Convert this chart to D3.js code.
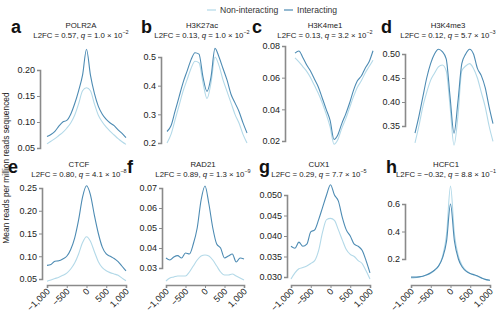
<!DOCTYPE html>
<html>
<head>
<meta charset="utf-8">
<script src="https://cdn.jsdelivr.net/npm/d3@7"></script>
<style>
  body { margin: 0; background: #fff; }
  svg { font-family: 'Liberation Sans', Arial, Helvetica, sans-serif; }
</style>
</head>
<body>
<div id="plot_area"></div>
<script>
// Distance from anchor (bp)
const positions = [-1000, -900, -800, -700, -600, -500, -400, -300, -200, -100, 0,
                   100, 200, 300, 400, 500, 600, 700, 800, 900, 1000];

const letters = ['a', 'b', 'c', 'd', 'e', 'f', 'g', 'h'];
const genes = ['POLR2A', 'H3K27ac', 'H3K4me1', 'H3K4me3', 'CTCF', 'RAD21', 'CUX1', 'HCFC1'];
const l2fc = ['0.57', '0.13', '0.13', '0.12', '0.80', '0.89', '0.29', '\u22120.32'];
const qMantissa = ['1.0', '1.0', '3.2', '5.7', '4.1', '1.3', '7.7', '8.8'];
const qExponent = ['\u22122', '\u22122', '\u22122', '\u22123', '\u22128', '\u22129', '\u22125', '\u22121'];

const seriesNames = ['Non-interacting', 'Interacting'];
const xTicks = [-1000, -500, 0, 500, 1000];

const polr2aNon   = [0.058, 0.063, 0.068, 0.074, 0.080, 0.088, 0.098, 0.113, 0.135, 0.160, 0.166, 0.160, 0.135, 0.113, 0.100, 0.090, 0.082, 0.075, 0.068, 0.062, 0.057];
const polr2aInter = [0.072, 0.076, 0.082, 0.092, 0.100, 0.103, 0.115, 0.135, 0.160, 0.190, 0.240, 0.190, 0.155, 0.130, 0.115, 0.105, 0.098, 0.093, 0.085, 0.078, 0.070];
const h3k27acNon   = [0.200, 0.230, 0.280, 0.330, 0.380, 0.420, 0.460, 0.485, 0.480, 0.410, 0.355, 0.410, 0.500, 0.470, 0.420, 0.380, 0.340, 0.300, 0.270, 0.230, 0.200];
const h3k27acInter = [0.240, 0.260, 0.310, 0.360, 0.410, 0.450, 0.490, 0.515, 0.510, 0.430, 0.380, 0.430, 0.530, 0.500, 0.460, 0.420, 0.370, 0.340, 0.310, 0.270, 0.235];
const h3k4me1Non   = [0.0725, 0.070, 0.067, 0.064, 0.060, 0.055, 0.050, 0.044, 0.037, 0.029, 0.018, 0.021, 0.028, 0.034, 0.041, 0.048, 0.054, 0.058, 0.063, 0.067, 0.071];
const h3k4me1Inter = [0.0755, 0.0768, 0.0728, 0.068, 0.064, 0.059, 0.054, 0.047, 0.040, 0.033, 0.021, 0.024, 0.031, 0.037, 0.044, 0.052, 0.058, 0.061, 0.066, 0.070, 0.077];
const h3k4me3Non   = [0.315, 0.350, 0.390, 0.420, 0.445, 0.460, 0.473, 0.477, 0.465, 0.390, 0.310, 0.370, 0.465, 0.475, 0.480, 0.470, 0.450, 0.420, 0.390, 0.350, 0.318];
const h3k4me3Inter = [0.335, 0.370, 0.410, 0.450, 0.480, 0.500, 0.510, 0.505, 0.490, 0.410, 0.335, 0.400, 0.480, 0.500, 0.510, 0.500, 0.470, 0.455, 0.430, 0.390, 0.355];
const ctcfNon   = [0.045, 0.048, 0.051, 0.054, 0.058, 0.063, 0.072, 0.085, 0.105, 0.130, 0.143, 0.133, 0.110, 0.088, 0.075, 0.068, 0.064, 0.061, 0.058, 0.052, 0.046];
const ctcfInter = [0.080, 0.082, 0.089, 0.090, 0.094, 0.100, 0.115, 0.140, 0.180, 0.230, 0.255, 0.235, 0.190, 0.150, 0.120, 0.105, 0.100, 0.095, 0.088, 0.078, 0.068];
const rad21Non   = [0.0235, 0.025, 0.0255, 0.026, 0.026, 0.026, 0.028, 0.031, 0.034, 0.036, 0.0365, 0.036, 0.034, 0.031, 0.028, 0.0265, 0.0265, 0.027, 0.026, 0.025, 0.024];
const rad21Inter = [0.035, 0.034, 0.0355, 0.0362, 0.035, 0.0375, 0.037, 0.042, 0.050, 0.064, 0.071, 0.062, 0.050, 0.042, 0.040, 0.035, 0.036, 0.037, 0.033, 0.035, 0.0345];
const cux1Non   = [0.0295, 0.031, 0.032, 0.0323, 0.0327, 0.0333, 0.034, 0.0365, 0.041, 0.044, 0.0443, 0.0438, 0.0415, 0.039, 0.0367, 0.0355, 0.035, 0.034, 0.0333, 0.0315, 0.0295];
const cux1Inter = [0.0375, 0.037, 0.0385, 0.0375, 0.038, 0.041, 0.0415, 0.044, 0.047, 0.050, 0.0525, 0.050, 0.0485, 0.0445, 0.0415, 0.040, 0.038, 0.0375, 0.0365, 0.034, 0.031];
const hcfc1Non   = [0.062, 0.064, 0.068, 0.074, 0.083, 0.097, 0.118, 0.150, 0.220, 0.380, 0.730, 0.380, 0.220, 0.150, 0.115, 0.095, 0.083, 0.072, 0.060, 0.050, 0.043];
const hcfc1Inter = [0.068, 0.068, 0.070, 0.075, 0.085, 0.100, 0.120, 0.150, 0.210, 0.330, 0.600, 0.330, 0.200, 0.140, 0.110, 0.095, 0.085, 0.075, 0.060, 0.050, 0.045];

const nonSeries = [polr2aNon, h3k27acNon, h3k4me1Non, h3k4me3Non, ctcfNon, rad21Non, cux1Non, hcfc1Non];
const interSeries = [polr2aInter, h3k27acInter, h3k4me1Inter, h3k4me3Inter, ctcfInter, rad21Inter, cux1Inter, hcfc1Inter];

const yTicks = [
  [0.05, 0.10, 0.15, 0.20],
  [0.2, 0.3, 0.4, 0.5],
  [0.02, 0.04, 0.06, 0.08],
  [0.35, 0.40, 0.45, 0.50],
  [0.05, 0.10, 0.15, 0.20, 0.25],
  [0.03, 0.04, 0.05, 0.06, 0.07],
  [0.030, 0.035, 0.040, 0.045, 0.050],
  [0.2, 0.4, 0.6]
];
const yFormats = ['.2f', '.1f', '.2f', '.2f', '.2f', '.2f', '.3f', '.1f'];

// Layout (pixels) for each panel
const layout = [
  { axisX: 40,  x0: 47,  x1: 126, yLo: 148, yHi: 70,  titleX: 81,  titleY: 28,  letterX: 11,  letterY: 33,  bottom: false },
  { axisX: 161, x0: 167, x1: 247, yLo: 143, yHi: 57,  titleX: 202, titleY: 28,  letterX: 141, letterY: 33,  bottom: false },
  { axisX: 285, x0: 295, x1: 373, yLo: 141, yHi: 46,  titleX: 325, titleY: 28,  letterX: 252, letterY: 33,  bottom: false },
  { axisX: 405, x0: 415, x1: 493, yLo: 126, yHi: 54,  titleX: 448, titleY: 28,  letterX: 381, letterY: 33,  bottom: false },
  { axisX: 42,  x0: 47,  x1: 126, yLo: 279, yHi: 188, titleX: 79,  titleY: 167, letterX: 8,   letterY: 173, bottom: true },
  { axisX: 162, x0: 166, x1: 244, yLo: 268, yHi: 188, titleX: 203, titleY: 167, letterX: 127, letterY: 173, bottom: true },
  { axisX: 287, x0: 291, x1: 370, yLo: 277, yHi: 195, titleX: 319, titleY: 167, letterX: 259, letterY: 173, bottom: true },
  { axisX: 405, x0: 411, x1: 490, yLo: 259, yHi: 204, titleX: 446, titleY: 167, letterX: 386, letterY: 173, bottom: true }
];
const xAxisY = 285;

const colorNon = '#b3d9e8';
const colorInter = '#4d8bb3';
const axisColor = '#8a8a8a';

const w = 500;
const h = 318;

const svg = d3.select('#plot_area')
  .append('svg')
  .attr('width', w)
  .attr('height', h);

// Legend
const legend = [
  { x: 207, color: colorNon, label: seriesNames[0] },
  { x: 284, color: colorInter, label: seriesNames[1] }
];
legend.forEach(function (l) {
  svg.append('line')
    .attr('x1', l.x).attr('x2', l.x + 9)
    .attr('y1', 10).attr('y2', 10)
    .attr('stroke', l.color).attr('stroke-width', 1.2);
  svg.append('text')
    .attr('x', l.x + 13).attr('y', 13)
    .style('font-size', '8.6px').attr('fill', '#333')
    .text(l.label);
});

// Shared y label
svg.append('text')
  .attr('transform', 'translate(9,168) rotate(-90)')
  .attr('text-anchor', 'middle')
  .style('font-size', '8.4px')
  .attr('fill', '#222')
  .text('Mean reads per million reads sequenced');

const fmtX = function (d) {
  return (d < 0 ? '\u2212' : '') + d3.format(',')(Math.abs(d));
};

layout.forEach(function (p, i) {
  const ticks = yTicks[i];
  const xScale = d3.scaleLinear()
    .domain([positions[0], positions[positions.length - 1]])
    .range([p.x0, p.x1]);
  const yScale = d3.scaleLinear()
    .domain([ticks[0], ticks[ticks.length - 1]])
    .range([p.yLo, p.yHi]);

  const g = svg.append('g');

  // Panel letter
  g.append('text')
    .attr('x', p.letterX).attr('y', p.letterY)
    .style('font-size', '18px').style('font-weight', 'bold')
    .attr('fill', '#111')
    .text(letters[i]);

  // Title
  g.append('text')
    .attr('x', p.titleX).attr('y', p.titleY)
    .attr('text-anchor', 'middle')
    .style('font-size', '7.8px').attr('fill', '#222')
    .text(genes[i]);
  const t2 = g.append('text')
    .attr('x', p.titleX).attr('y', p.titleY + 9.5)
    .attr('text-anchor', 'middle')
    .style('font-size', '7.8px').attr('fill', '#222');
  t2.append('tspan').text('L2FC = ' + l2fc[i] + ', ');
  t2.append('tspan').style('font-style', 'italic').text('q');
  t2.append('tspan').text(' = ' + qMantissa[i] + ' \u00d7 10');
  t2.append('tspan').attr('dy', -3.5).style('font-size', '5.5px').text(qExponent[i]);

  // Y axis
  const yAxis = g.append('g')
    .attr('transform', 'translate(' + p.axisX + ',0)')
    .call(d3.axisLeft(yScale).tickValues(ticks).tickFormat(d3.format(yFormats[i]))
      .tickSizeOuter(0).tickSize(3).tickPadding(2));
  yAxis.select('.domain').attr('stroke', axisColor).attr('stroke-width', 1.6);
  yAxis.selectAll('.tick line').attr('stroke', axisColor).attr('stroke-width', 1);
  yAxis.selectAll('.tick text').style('font-size', '9px').style('font-family', null).attr('fill', '#222');

  // X axis on bottom row
  if (p.bottom) {
    const xAxis = g.append('g')
      .attr('transform', 'translate(0,' + xAxisY + ')')
      .call(d3.axisBottom(xScale).tickValues(xTicks).tickFormat(fmtX)
        .tickSizeOuter(0).tickSize(3));
    xAxis.select('.domain').attr('stroke', axisColor).attr('stroke-width', 1.6);
    xAxis.selectAll('.tick line').attr('stroke', axisColor).attr('stroke-width', 1);
    xAxis.selectAll('.tick text')
      .style('font-size', '9px').style('font-family', null).attr('fill', '#222')
      .attr('text-anchor', 'end')
      .attr('dy', null).attr('y', 0)
      .attr('transform', 'translate(3,7) rotate(-45)');
  }

  const line = d3.line()
    .x((d, k) => xScale(positions[k]))
    .y((d) => yScale(d))
    .curve(d3.curveMonotoneX);

  g.append('path')
    .datum(nonSeries[i])
    .attr('fill', 'none')
    .attr('stroke', colorNon)
    .attr('stroke-width', 1.1)
    .attr('d', line);

  g.append('path')
    .datum(interSeries[i])
    .attr('fill', 'none')
    .attr('stroke', colorInter)
    .attr('stroke-width', 1.1)
    .attr('d', line);
});
</script>
</body>
</html>
